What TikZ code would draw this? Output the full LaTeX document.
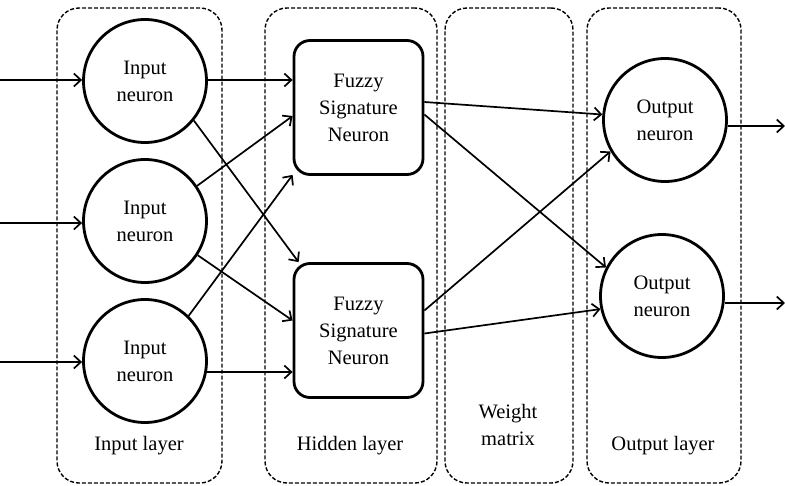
\documentclass[tikz,border=0pt]{standalone}
\usepackage{fontspec}
\setmainfont{Liberation Serif}
\usetikzlibrary{arrows.meta,calc}
\begin{document}
\begin{tikzpicture}[x=1pt,y=-1pt,
  every node/.style={font=\fontsize{20.5}{27}\selectfont, align=center, inner sep=0pt},
  layerbox/.style={draw, line width=1.4pt, dash pattern=on 4pt off 2pt, rounded corners=22pt, minimum width=#1, minimum height=475pt},
  neuron/.style={draw, circle, line width=2.8pt, minimum size=123pt},
  fsn/.style={draw, rounded corners=16pt, line width=2.8pt, minimum width=129pt, minimum height=134pt},
  conn/.style={line width=1.7pt, -{Straight Barb[length=7pt,width=13pt,line width=1.7pt]}},
  lbl/.style={}]
\useasboundingbox (0,0) rectangle (785,485);
% layer boxes
\node[layerbox=165pt] (Lin) at (139.5,245.5) {};
\node[layerbox=172pt] (Lhid) at (351,245.5) {};
\node[layerbox=128pt] (Lw) at (509,245.5) {};
\node[layerbox=154pt] (Lout) at (664,245.5) {};
% labels
\node[lbl] (tin) at (139,446) {Input layer};
\node[lbl] (thid) at (350,446) {Hidden layer};
\node[lbl] (tw) at (508,425) {Weight\\matrix};
\node[lbl] (tout) at (663,446) {Output layer};
% neurons
\node[neuron] (in1) at (145,81) {Input\\neuron};
\node[neuron] (in2) at (145,221) {Input\\neuron};
\node[neuron] (in3) at (145,361) {Input\\neuron};
\node[fsn] (f1) at (358.5,107.5) {Fuzzy\\Signature\\Neuron};
\node[fsn] (f2) at (358.5,330.5) {Fuzzy\\Signature\\Neuron};
\node[neuron] (o1) at (665,120) {Output\\neuron};
\node[neuron] (o2) at (662,296) {Output\\neuron};
% free ends
\coordinate (s1) at (0,80);
\coordinate (s2) at (0,223);
\coordinate (s3) at (0,362);
\coordinate (e1) at (785,126);
\coordinate (e2) at (785,303);
% inputs
\draw[conn] (s1) -- (s1 -| in1.west);
\draw[conn] (s2) -- (s2 -| in2.west);
\draw[conn] (s3) -- (s3 -| in3.west);
% input -> hidden
\draw[conn] (in1.east |- 0,80) -- ($(f1.west)+(0,-27.5)$);
\draw[conn] (in1.-39) -- ($(f2.north west)+(6,0)$);
\draw[conn] (in2.34) -- ($(f1.west)+(0,8.5)$);
\draw[conn] (in2.-33) -- ($(f2.west)+(0,-10)$);
\draw[conn] (in3.46) -- ($(f1.south west)+(0,-1)$);
\draw[conn] (in3.-10) -- ($(f2.west)+(0,41.5)$);
% hidden -> output
\draw[conn] ($(f1.east)+(0,-5.5)$) -- (o1.175);
\draw[conn] ($(f1.east)+(0,7)$) -- (o2.153);
\draw[conn] ($(f2.east)+(0,-20)$) -- (o1.210);
\draw[conn] ($(f2.east)+(0,3)$) -- (o2.192);
% outputs
\draw[conn] (o1.east |- e1) -- (e1);
\draw[conn] (o2.east |- e2) -- (e2);
\end{tikzpicture}
\end{document}
